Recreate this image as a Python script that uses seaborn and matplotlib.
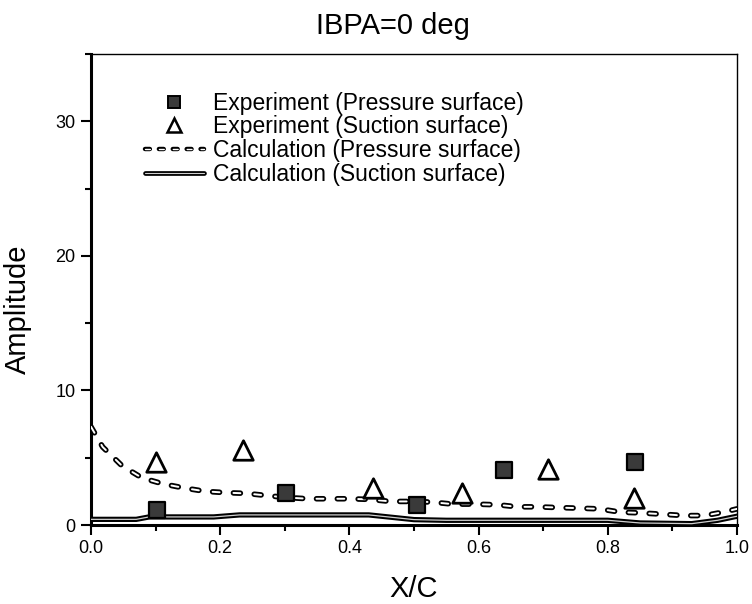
import matplotlib
matplotlib.use("Agg")
import matplotlib.pyplot as plt
from matplotlib.ticker import MultipleLocator
from matplotlib.lines import Line2D
import numpy as np
import pandas as pd
import seaborn as sns

# Measured amplitudes (experiment)
exp_p_x = [0.102, 0.302, 0.505, 0.640, 0.842]
exp_p_y = [1.1, 2.4, 1.5, 4.1, 4.7]
exp_s_x = [0.100, 0.236, 0.436, 0.574, 0.708, 0.841]
exp_s_y = [4.7, 5.6, 2.75, 2.4, 4.15, 2.0]

# Computed amplitudes (calculation)
calc_p_x = [0.0, 0.018, 0.048, 0.079, 0.112, 0.144, 0.177, 0.21, 0.24, 0.27, 0.30,
            0.336, 0.37, 0.40, 0.432, 0.464, 0.50, 0.528, 0.56, 0.595, 0.63, 0.66,
            0.69, 0.72, 0.755, 0.787, 0.82, 0.85, 0.885, 0.918, 0.95, 0.983, 1.0]
calc_p_y = [7.3, 5.8, 4.4, 3.5, 3.05, 2.75, 2.5, 2.4, 2.35, 2.2, 2.05,
            1.95, 1.95, 1.95, 1.9, 1.75, 1.75, 1.7, 1.55, 1.55, 1.5, 1.35,
            1.35, 1.3, 1.25, 1.2, 0.95, 0.9, 0.8, 0.7, 0.7, 1.0, 1.2]
calc_s_x = [0.0, 0.07, 0.09, 0.19, 0.23, 0.43, 0.50, 0.55, 0.80, 0.85, 0.93, 0.97, 1.0]
calc_s_y = [0.42, 0.42, 0.6, 0.6, 0.75, 0.75, 0.4, 0.35, 0.35, 0.15, 0.1, 0.35, 0.65]

x_ticks = [0.0, 0.2, 0.4, 0.6, 0.8, 1.0]
x_tick_labels = ["0.0", "0.2", "0.4", "0.6", "0.8", "1.0"]
y_ticks = [0, 10, 20, 30]

labels = ["Experiment (Pressure surface)", "Experiment (Suction surface)",
          "Calculation (Pressure surface)", "Calculation (Suction surface)"]

sns.set_theme(style="ticks")
plt.rcParams["font.family"] = ["Liberation Sans", "DejaVu Sans"]
plt.rcParams["lines.scale_dashes"] = False
plt.rcParams["text.color"] = "black"
plt.rcParams["axes.labelcolor"] = "black"

fig = plt.figure(figsize=(7.52, 6.04), dpi=100)
ax = fig.add_axes([91 / 752, 1 - 525 / 604, 646 / 752, 471 / 604])

df_ep = pd.DataFrame({"x": exp_p_x, "y": exp_p_y})
df_es = pd.DataFrame({"x": exp_s_x, "y": exp_s_y})
df_cp = pd.DataFrame({"x": calc_p_x, "y": calc_p_y})
df_cs = pd.DataFrame({"x": calc_s_x, "y": calc_s_y})

# Calculation, suction surface: black double line
sns.lineplot(data=df_cs, x="x", y="y", ax=ax, color="black", lw=3.8,
             sort=False, estimator=None, zorder=3)
sns.lineplot(data=df_cs, x="x", y="y", ax=ax, color="#d0d0d0", lw=0.9,
             sort=False, estimator=None, zorder=3.1)

# Calculation, pressure surface: hollow dashes
sns.lineplot(data=df_cp, x="x", y="y", ax=ax, color="black", lw=4.0,
             dashes=False, sort=False, estimator=None, zorder=3.2)
cp_outer = ax.lines[-1]
cp_outer.set_dashes((5.0, 10.0))
cp_outer.set_dash_capstyle("round")
sns.lineplot(data=df_cp, x="x", y="y", ax=ax, color="white", lw=1.4,
             dashes=False, sort=False, estimator=None, zorder=3.3)
cp_inner = ax.lines[-1]
cp_inner.set_dashes((5.0, 10.0))
cp_inner.set_dash_capstyle("round")

# Experimental points
sns.scatterplot(data=df_ep, x="x", y="y", ax=ax, marker="s", s=11 ** 2,
                color="#3a3a3a", edgecolor="black", linewidth=1.6, zorder=4)
sns.scatterplot(data=df_es, x="x", y="y", ax=ax, marker="^", s=14 ** 2,
                facecolor="white", edgecolor="black", linewidth=2.0, zorder=4)

ax.set_xlim(0, 1.0)
ax.set_ylim(0, 35)
ax.set_xticks(x_ticks)
ax.set_xticklabels(x_tick_labels)
ax.set_yticks(y_ticks)
ax.xaxis.set_minor_locator(MultipleLocator(0.1))
ax.yaxis.set_minor_locator(MultipleLocator(5))
ax.tick_params(axis="both", which="major", direction="out", length=7, width=1.5,
               labelsize=13, colors="black", labelcolor="black", pad=4)
ax.tick_params(axis="both", which="minor", direction="out", length=4, width=1.5,
               colors="black")

for side in ["left", "bottom"]:
    ax.spines[side].set_linewidth(2.2)
for side in ["top", "right"]:
    ax.spines[side].set_linewidth(1.0)
    ax.spines[side].set_visible(True)
for sp in ax.spines.values():
    sp.set_color("black")

ax.set_xlabel("X/C", fontsize=21, color="black")
ax.set_ylabel("Amplitude", fontsize=21, color="black")
ax.xaxis.set_label_coords(0.5, -0.106)
ax.yaxis.set_label_coords(-0.092, 0.459)
fig.text(393 / 752, 1 - 26 / 604, "IBPA=0 deg", fontsize=21, ha="center",
         va="center", color="black")

# Legend
h_sq = Line2D([], [], marker="s", ms=9, ls="none", markerfacecolor="#3a3a3a",
              markeredgecolor="black", markeredgewidth=1.4)
h_tri = Line2D([], [], marker="^", ms=10, ls="none", markerfacecolor="white",
               markeredgecolor="black", markeredgewidth=1.8)
h_cp_o = Line2D([], [], color="black", lw=3.2, dashes=(3.5, 6.5),
                dash_capstyle="round")
h_cp_i = Line2D([], [], color="white", lw=1.0, dashes=(3.5, 6.5),
                dash_capstyle="round")
h_cs_o = Line2D([], [], color="black", lw=3.4)
h_cs_i = Line2D([], [], color="#d0d0d0", lw=0.8)
leg = ax.legend([h_sq, h_tri, (h_cp_o, h_cp_i), (h_cs_o, h_cs_i)], labels,
                loc="upper left",
                bbox_to_anchor=((140 - 91) / 646, (525 - 87) / 471),
                frameon=False, fontsize=16.5, handlelength=2.6, handletextpad=0.4,
                labelspacing=0.03, borderaxespad=0, borderpad=0.2)
for t in leg.get_texts():
    t.set_color("black")

fig.savefig("out.png", dpi=100, facecolor="white")
